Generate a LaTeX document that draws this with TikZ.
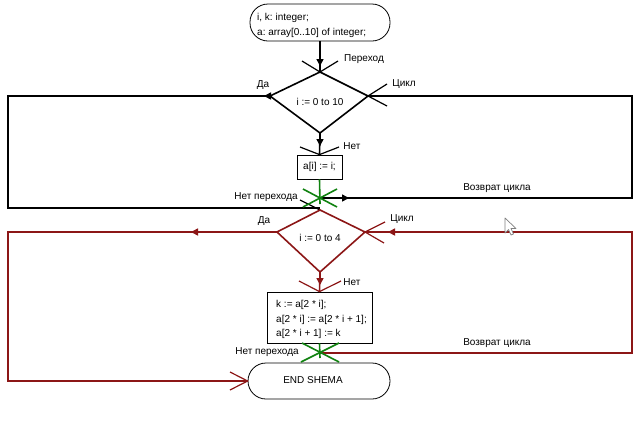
\documentclass[tikz,border=0pt]{standalone}
\usepackage{fontspec}
\setmainfont{Liberation Sans}
\usetikzlibrary{arrows.meta}
\definecolor{dred}{RGB}{140,22,22}
\definecolor{dgreen}{RGB}{16,130,16}
\frenchspacing
\begin{document}
\begin{tikzpicture}[x=1pt,y=-1pt,
  font=\fontsize{10}{12}\selectfont,
  conn/.style={line width=1.6pt},
  leg/.style={line width=1.2pt},
  thinbox/.style={draw, line width=0.8pt, inner sep=0pt},
  lbl/.style={inner sep=0pt},
  tip/.style={line width=1.6pt, -{Triangle[length=7pt,width=7pt]}},
  grn/.style={color=dgreen, line width=1.6pt},
]
\fill[white] (0,0) rectangle (640,421);
\useasboundingbox (0,0) rectangle (640,421);

% ---------- terminators ----------
\node[thinbox, rounded corners=18pt, minimum width=140pt, minimum height=37pt] (start) at (320,22.5) {};
\node[lbl, anchor=base west] (s1) at (257,20) {i, k: integer;};
\node[lbl, anchor=base west] (s2) at (257,35) {a: array[0..10] of integer;};

\node[thinbox, rounded corners=18pt, minimum width=142pt, minimum height=36pt] (fin) at (319,381) {};
\node[lbl] (fintxt) at (313,380) {END SHEMA};

% ---------- diamond 1 ----------
\coordinate (d1t) at (320,72);
\coordinate (d1r) at (368,96);
\coordinate (d1b) at (320,133);
\coordinate (d1l) at (270,96);
\draw[conn, line join=miter] (d1t) -- (d1r) -- (d1b) -- (d1l) -- cycle;
\node[lbl] (d1txt) at (320,102) {i := 0 to 10};

% entry into diamond 1
\coordinate (a1) at (320,66);
\draw[conn] (start.south) -- (d1t);
\draw[tip] (start.south) -- (a1);
\coordinate (l1a) at (302,61);
\coordinate (l1b) at (338,61);
\draw[leg] (l1a) -- (d1t) -- (l1b);
\node[lbl] (perehod) at (364,59) {Переход};

% right legs diamond 1
\coordinate (r1u) at (387,84);
\coordinate (r1d) at (387,106);
\draw[leg] (d1r) -- (r1u);
\draw[leg] (d1r) -- (r1d);
\node[lbl] (cikl1) at (404,84) {Цикл};

% left (Да) loop 1
\coordinate (c1) at (8,96);
\coordinate (c2) at (8,208);
\coordinate (j1) at (320,208);
\coordinate (ya1) at (264,96);
\draw[conn] (d1l) -- (c1) -- (c2) -- (j1);
\draw[tip] (d1l) -- (ya1);
\node[lbl] (da1) at (263,85) {Да};

% box 1
\node[thinbox, minimum width=45pt, minimum height=24pt] (b1) at (319.5,167) {a[i] := i;};
\coordinate (a2) at (320,146);
\draw[conn] (d1b) -- (b1.north);
\draw[tip] (d1b) -- (a2);
\coordinate (l2a) at (300,147);
\coordinate (l2b) at (339,147);
\draw[leg] (l2a) -- (b1.north) -- (l2b);
\node[lbl] (net1) at (352,146) {Нет};

% return loop 1 (black)
\coordinate (g1) at (320,198);
\coordinate (c3) at (632,198);
\coordinate (c4) at (632,96);
\coordinate (ra1) at (349,198);
\draw[conn] (g1) -- (c3) -- (c4) -- (d1r);
\draw[tip] (g1) -- (ra1);
\node[lbl] (voz1) at (497,188) {Возврат цикла};

% no-transition leader 1
\coordinate (n1) at (300,200);
\coordinate (d2t) at (320,210);
\draw[leg] (n1) -- (d2t);
\node[lbl] (nper1) at (266,197) {Нет перехода};

% green junction 1
\coordinate (g1e) at (320,204);
\coordinate (gx1a) at (303,189);
\coordinate (gx1b) at (337,207);
\coordinate (gx1c) at (337,189);
\coordinate (gx1d) at (303,207);
\draw[grn] (b1.south) -- (g1e);
\draw[grn] (gx1a) -- (gx1b);
\draw[grn] (gx1c) -- (gx1d);

% ---------- diamond 2 (red) ----------
\coordinate (d2r) at (365,232);
\coordinate (d2b) at (320,272);
\coordinate (d2l) at (277,232);
\draw[conn, dred, line join=miter] (d2t) -- (d2r) -- (d2b) -- (d2l) -- cycle;
\node[lbl] (d2txt) at (320,238) {i := 0 to 4};

% right legs diamond 2
\coordinate (r2u) at (385,222);
\coordinate (r2d) at (384,243);
\draw[leg, dred] (d2r) -- (r2u);
\draw[leg, dred] (d2r) -- (r2d);
\node[lbl] (cikl2) at (402,219) {Цикл};

% left (Да) loop 2
\coordinate (c5) at (8,232);
\coordinate (c6) at (8,381);
\coordinate (ya2s) at (200,232);
\coordinate (ya2) at (191,232);
\draw[conn, dred] (d2l) -- (c5) -- (c6) -- (fin.west);
\draw[tip, dred] (ya2s) -- (ya2);
\coordinate (v1) at (230,372);
\coordinate (v2) at (230,390);
\draw[leg, dred] (v1) -- (fin.west) -- (v2);
\node[lbl] (da2) at (264,221) {Да};

% box 2
\node[thinbox, minimum width=105pt, minimum height=51pt] (b2) at (319.5,317.5) {};
\node[lbl, anchor=base west] (t1) at (276,307) {k := a[2 * i];};
\node[lbl, anchor=base west] (t2) at (276,322) {a[2 * i] := a[2 * i + 1];};
\node[lbl, anchor=base west] (t3) at (276,336) {a[2 * i + 1] := k};
\coordinate (a3) at (320,285);
\draw[conn, dred] (d2b) -- (b2.north);
\draw[tip, dred] (d2b) -- (a3);
\coordinate (l3a) at (299,281);
\coordinate (l3b) at (341,281);
\draw[leg, dred] (l3a) -- (b2.north) -- (l3b);
\node[lbl] (net2) at (352,282) {Нет};

% return loop 2 (red)
\coordinate (g2) at (320,353);
\coordinate (c7) at (632,353);
\coordinate (c8) at (632,232);
\coordinate (ra2s) at (397,232);
\coordinate (ra2) at (388,232);
\draw[conn, dred] (g2) -- (c7) -- (c8) -- (d2r);
\draw[tip, dred] (ra2s) -- (ra2);
\node[lbl] (voz2) at (497,343) {Возврат цикла};
\node[lbl] (nper2) at (267,352) {Нет перехода};

% green junction 2
\coordinate (g2e) at (320,358);
\coordinate (gx2a) at (302,343);
\coordinate (gx2b) at (339,362);
\coordinate (gx2c) at (339,343);
\coordinate (gx2d) at (301,362);
\draw[grn] (b2.south) -- (g2e);
\draw[grn] (gx2a) -- (gx2b);
\draw[grn] (gx2c) -- (gx2d);

% mouse pointer
\draw[gray, fill=white, line width=0.7pt, line join=round]
  (505,218) -- (505,233) -- (508.5,229.5) -- (511,235) -- (513.5,234) -- (511,228.5) -- (516,228.5) -- cycle;
\end{tikzpicture}
\end{document}
